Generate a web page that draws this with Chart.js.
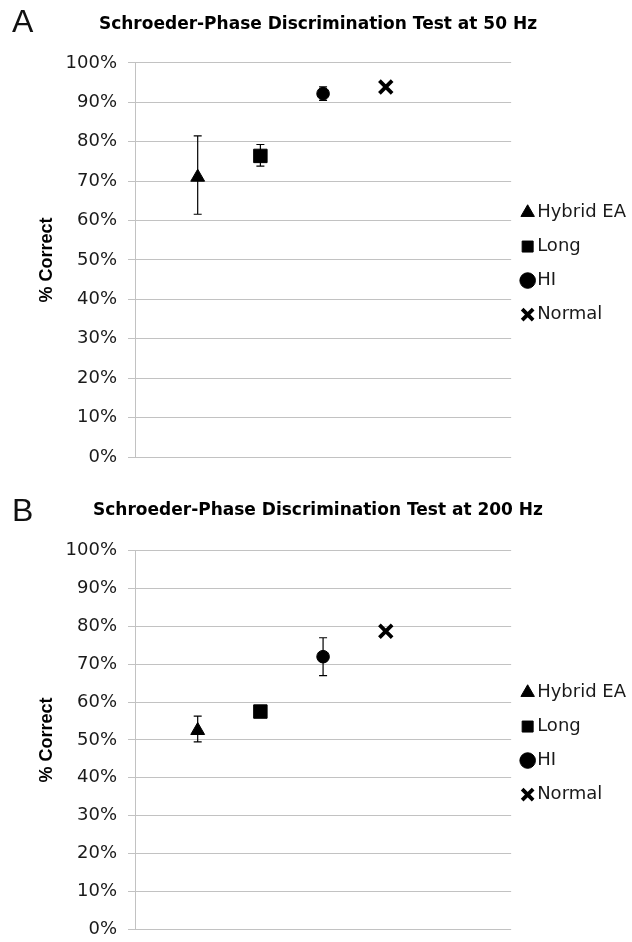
<!DOCTYPE html>
<html>
<head>
<meta charset="utf-8">
<script src="https://cdn.jsdelivr.net/npm/chart.js@4.4.1/dist/chart.umd.min.js"></script>
<style>
  body { margin: 0; background: #fff; }
  #wrap { position: relative; width: 632px; height: 942px; }
  canvas { position: absolute; left: 0; }
  .panel { position: absolute; left: 12px; font: 32px "Liberation Sans", Arial, sans-serif; color: #111; line-height: 1; }
</style>
</head>
<body>
<div id="wrap">
  <canvas id="chartA" width="632" height="471" style="top:0"></canvas>
  <canvas id="chartB" width="632" height="471" style="top:471px"></canvas>
  <div class="panel" style="top:5px">A</div>
  <div class="panel" style="top:494px">B</div>
</div>
<script>
// grupos y posiciones en el eje x
const grupos = ["Hybrid EA", "Long", "HI", "Normal"];
const posX = [1, 2, 3, 4];
const estilos = ["triangle", "rect", "circle", "crossRot"];
const radios = [8, 9.5, 6.3, 9];
const ticksY = [0, 10, 20, 30, 40, 50, 60, 70, 80, 90, 100];

// Panel A: 50 Hz
const medias50 = [71.0, 76.4, 92.2, 93.9];
const errInf50 = [61.6, 73.8, 90.5, null];
const errSup50 = [81.5, 79.3, 93.9, null];

// Panel B: 200 Hz
const medias200 = [52.5, 57.5, 72.0, 78.7];
const errInf200 = [49.5, null, 67.0, null];
const errSup200 = [56.3, null, 77.0, null];

const gris = "#c2c2c2";
const texto = "#1a1a1a";

// barras de error dibujadas con las escalas del grafico
const barrasError = {
  id: "barrasError",
  beforeDatasetsDraw(chart, args, opts) {
    const ctx = chart.ctx;
    const sx = chart.scales.x, sy = chart.scales.y;
    ctx.save();
    ctx.strokeStyle = "#000";
    ctx.lineWidth = 1.2;
    opts.inf.forEach((lo, i) => {
      if (lo == null) return;
      const px = sx.getPixelForValue(posX[i]);
      const y1 = sy.getPixelForValue(lo);
      const y2 = sy.getPixelForValue(opts.sup[i]);
      ctx.beginPath();
      ctx.moveTo(px, y1); ctx.lineTo(px, y2);
      ctx.moveTo(px - 4, y1); ctx.lineTo(px + 4, y1);
      ctx.moveTo(px - 4, y2); ctx.lineTo(px + 4, y2);
      ctx.stroke();
    });
    ctx.restore();
  }
};

function crearGrafico(id, titulo, medias, inf, sup, lay) {
  const datasets = grupos.map((g, i) => ({
    label: g,
    data: [{ x: posX[i], y: medias[i] }],
    pointStyle: estilos[i],
    pointRadius: radios[i],
    pointHoverRadius: radios[i],
    backgroundColor: "#000",
    borderColor: "#000",
    borderWidth: estilos[i] === "crossRot" ? 3.8 : 1,
    showLine: false
  }));

  new Chart(document.getElementById(id), {
    type: "scatter",
    data: { datasets },
    plugins: [barrasError],
    options: {
      responsive: false,
      animation: false,
      layout: { padding: { left: 0, right: -4, top: 0, bottom: lay.bottom } },
      plugins: {
        barrasError: { inf, sup },
        tooltip: { enabled: false },
        title: {
          display: true,
          text: titulo,
          color: "#000",
          font: { family: "DejaVu Sans", size: 17, weight: "bold" },
          padding: { top: lay.tTop, bottom: lay.tBottom }
        },
        legend: {
          position: "right",
          fullSize: false,
          title: { display: true, text: "", font: { size: 1 }, padding: { top: 3, bottom: 3 } },
          labels: {
            usePointStyle: true,
            boxWidth: 1,
            boxHeight: 11,
            padding: 16,
            color: texto,
            font: { family: "DejaVu Sans", size: 18 }
          }
        }
      },
      scales: {
        x: { type: "linear", min: 0, max: 6, display: false },
        y: {
          min: 0,
          max: 100,
          afterFit: s => { s.width = 135; s.paddingTop = 0; s.paddingBottom = 0; },
          afterBuildTicks: s => { s.ticks = ticksY.map(v => ({ value: v })); },
          ticks: {
            padding: 11,
            color: texto,
            font: { family: "DejaVu Sans", size: 18 },
            callback: v => v + "%"
          },
          grid: { color: gris, lineWidth: 1, tickLength: 7 },
          border: { color: gris },
          title: {
            display: true,
            text: "% Correct",
            color: "#000",
            font: { family: "Liberation Sans", size: 18, weight: "bold" },
            padding: { top: 36, bottom: 0 }
          }
        }
      }
    }
  });
}

crearGrafico("chartA", "Schroeder-Phase Discrimination Test at 50 Hz",
  medias50, errInf50, errSup50, { tTop: 14, tBottom: 28.5, bottom: 14 });
crearGrafico("chartB", "Schroeder-Phase Discrimination Test at 200 Hz",
  medias200, errInf200, errSup200, { tTop: 29, bottom: 5.5, tBottom: 30.3 });
</script>
</body>
</html>
